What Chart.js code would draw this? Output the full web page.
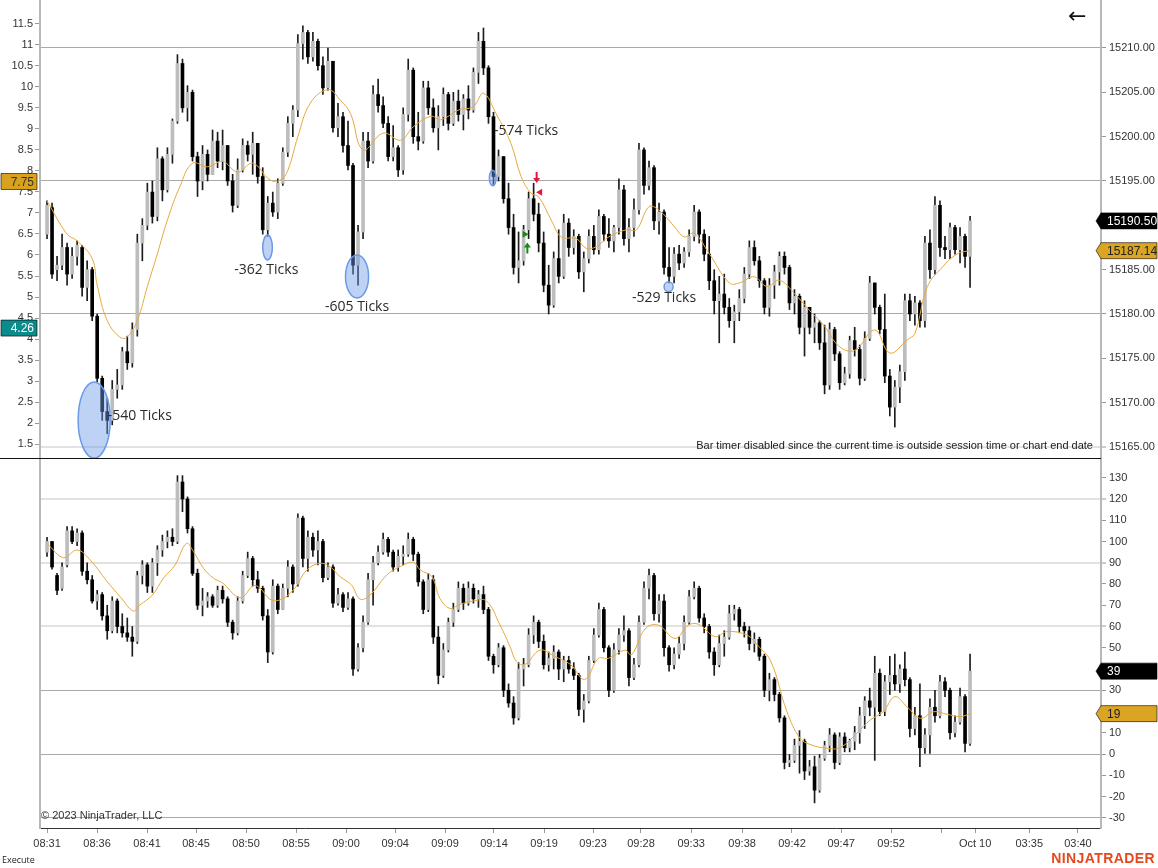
<!DOCTYPE html>
<html>
<head>
<meta charset="utf-8">
<script src="https://cdn.jsdelivr.net/npm/chart.js@4.4.1/dist/chart.umd.min.js"></script>
<style>
  body { margin: 0; background: #fff; width: 1158px; height: 868px; overflow: hidden; position: relative;
         font-family: "Liberation Sans", Arial, sans-serif; }
  canvas { position: absolute; left: 0; }
  #top { top: 0; }
  #bot { top: 458px; }
  .sep { position: absolute; left: 0; top: 458px; width: 1101px; height: 1px; background: #111; }
  .txt { position: absolute; white-space: nowrap; color: #222; }
</style>
</head>
<body>
<canvas id="top" width="1158" height="458"></canvas>
<canvas id="bot" width="1158" height="410"></canvas>
<div class="sep"></div>
<div class="txt" style="left:1068px;top:3px;font:22px 'DejaVu Sans',sans-serif;color:#111">&#8592;</div>
<div class="txt" style="right:65px;top:439px;font-size:11px;color:#1a1a1a">Bar timer disabled since the current time is outside session time or chart end date</div>
<div class="txt" style="left:41px;top:809px;font-size:11px;color:#333">&copy; 2023 NinjaTrader, LLC</div>
<div class="txt" style="left:2px;top:853px;font:9px 'Open Sans',sans-serif;color:#222">Execute</div>
<div class="txt" style="right:3px;top:850px;font-weight:bold;font-size:14px;letter-spacing:0.4px;color:#e5491f">NINJATRADER</div>

<script>
// ---- price panel (bars ~27s) ----
var topOpen = [
  15189.0,15192.0,15185.0,15185.5,15187.5,15184.5,15186.5,15187.5,15183.0,15185.0,
  15179.75,15172.75,15169.0,15168.0,15171.5,15172.0,15175.75,15174.5,15178.25,15188.0,
  15190.0,15193.75,15191.0,15197.5,15194.0,15198.0,15201.75,15208.25,15203.25,15205.0,
  15197.75,15195.0,15198.0,15195.75,15199.5,15197.25,15199.0,15195.0,15192.25,15196.25,
  15199.0,15198.0,15199.25,15195.5,15189.5,15192.5,15191.5,15194.75,15198.25,15201.5,
  15203.0,15210.5,15211.75,15209.0,15210.75,15208.0,15205.5,15208.5,15201.0,15202.25,
  15199.0,15196.75,15185.5,15189.25,15199.5,15197.25,15204.75,15203.5,15201.5,15197.75,
  15198.75,15196.25,15202.5,15207.5,15200.0,15199.5,15205.5,15203.25,15201.0,15202.25,
  15204.75,15201.5,15204.0,15202.5,15204.25,15203.0,15207.25,15210.75,15207.75,15202.25,
  15195.5,15197.75,15193.0,15189.75,15185.25,15186.0,15189.5,15193.0,15191.25,15188.0,
  15183.25,15181.0,15186.25,15184.25,15190.25,15187.5,15188.75,15184.75,15186.25,15188.75,
  15187.25,15191.0,15189.0,15188.25,15189.75,15194.0,15188.5,15189.75,15191.75,15198.5,
  15194.5,15196.5,15190.5,15191.5,15185.25,15184.25,15186.75,15185.75,15187.0,15188.75,
  15191.5,15189.0,15186.75,15183.75,15181.5,15182.25,15180.75,15179.25,15180.25,15181.75,
  15184.5,15187.5,15186.0,15183.75,15180.75,15183.25,15184.75,15186.5,15185.25,15181.25,
  15182.0,15178.5,15180.75,15178.5,15179.0,15176.75,15172.0,15178.25,15175.5,15172.25,
  15173.25,15177.0,15176.0,15172.75,15177.25,15183.5,15180.75,15178.25,15173.0,15169.5,
  15171.75,15173.5,15181.5,15180.0,15181.25,15179.25,15188.0,15185.0,15192.25,15187.5,
  15187.25,15189.75,15187.25,15188.75,15186.5
];
var topHigh = [
  15192.75,15192.5,15186.5,15189.0,15188.0,15187.5,15188.25,15187.75,15186.0,15185.25,
  15180.0,15173.0,15170.5,15172.5,15173.75,15176.25,15177.5,15179.0,15189.0,15190.75,
  15194.75,15195.0,15198.75,15197.75,15198.75,15202.0,15209.25,15208.75,15205.75,15205.25,
  15198.25,15199.0,15198.5,15200.75,15200.5,15200.75,15199.0,15195.75,15197.5,15199.75,
  15199.5,15200.5,15199.25,15196.5,15193.25,15193.75,15195.25,15198.75,15202.25,15203.5,
  15211.5,15212.5,15212.0,15211.75,15211.0,15209.0,15210.0,15208.5,15203.75,15202.75,
  15201.75,15197.0,15190.0,15200.5,15200.5,15205.75,15206.5,15204.5,15202.25,15201.25,
  15199.0,15203.25,15208.75,15207.75,15202.75,15206.25,15206.25,15204.25,15203.5,15205.5,
  15205.0,15205.0,15205.25,15204.75,15205.75,15207.75,15211.75,15212.25,15208.0,15202.75,
  15198.5,15197.75,15194.75,15191.25,15189.25,15190.0,15193.75,15194.75,15192.5,15189.25,
  15185.5,15187.0,15189.5,15191.25,15190.75,15189.5,15189.0,15187.0,15189.5,15190.0,
  15191.75,15191.25,15190.75,15190.0,15195.25,15194.5,15190.75,15193.0,15199.25,15198.75,
  15197.25,15196.75,15192.5,15191.75,15187.5,15187.5,15187.75,15187.5,15189.5,15192.25,
  15191.75,15189.5,15188.75,15185.0,15184.25,15184.5,15181.75,15181.0,15182.75,15185.25,
  15188.25,15188.25,15186.5,15184.0,15184.0,15185.5,15187.0,15187.0,15185.5,15182.75,
  15182.25,15181.5,15180.75,15180.0,15179.25,15178.75,15179.0,15178.5,15175.75,15174.0,
  15177.5,15178.5,15176.5,15178.0,15184.25,15183.5,15181.0,15182.25,15173.75,15172.5,
  15174.25,15182.25,15182.25,15182.0,15181.5,15188.75,15189.5,15193.25,15192.75,15188.75,
  15190.25,15190.0,15189.75,15189.0,15191.0
];
var topLow = [
  15188.5,15184.0,15183.75,15185.0,15183.25,15184.0,15185.5,15182.0,15181.5,15179.25,
  15172.25,15168.0,15166.5,15167.5,15170.5,15171.5,15173.75,15174.0,15177.5,15186.0,
  15189.5,15190.25,15190.5,15192.75,15193.75,15197.0,15201.5,15202.75,15201.75,15197.25,
  15193.25,15194.0,15195.0,15195.75,15196.5,15196.25,15194.5,15191.5,15192.0,15196.0,
  15197.25,15195.75,15194.75,15189.0,15188.75,15191.0,15190.75,15194.5,15197.75,15200.0,
  15202.25,15208.75,15208.25,15208.5,15207.5,15204.75,15205.25,15200.5,15200.0,15198.25,
  15196.25,15184.5,15183.25,15188.5,15196.5,15197.0,15202.75,15201.0,15197.25,15197.25,
  15195.5,15195.75,15201.75,15199.25,15198.5,15199.25,15202.5,15200.5,15198.5,15201.25,
  15200.75,15201.25,15201.75,15200.75,15202.0,15202.75,15206.0,15207.0,15201.5,15194.5,
  15195.0,15192.5,15189.0,15184.5,15183.5,15185.5,15188.5,15190.5,15187.0,15182.5,
  15180.0,15180.75,15183.5,15184.0,15186.5,15186.75,15184.0,15182.5,15185.75,15186.75,
  15186.75,15188.25,15187.5,15187.0,15189.0,15187.75,15187.0,15188.75,15191.25,15193.5,
  15194.0,15189.5,15189.0,15184.5,15183.5,15183.5,15185.0,15185.25,15186.5,15188.25,
  15188.0,15186.0,15182.75,15180.0,15176.75,15180.0,15178.5,15176.75,15179.25,15181.25,
  15184.0,15185.5,15183.0,15180.0,15179.75,15181.75,15183.25,15184.5,15180.5,15180.0,
  15177.75,15175.25,15177.75,15176.75,15176.0,15171.0,15171.5,15174.75,15171.5,15172.0,
  15172.75,15175.25,15172.0,15172.5,15177.0,15180.0,15177.75,15172.25,15168.5,15167.25,
  15170.0,15172.5,15179.25,15178.75,15178.5,15178.5,15184.0,15184.5,15186.5,15186.25,
  15186.25,15186.75,15185.75,15185.25,15183.0
];
var topClose = [
  15192.25,15184.5,15185.5,15187.5,15184.5,15186.5,15187.75,15183.0,15185.0,15179.75,
  15172.75,15169.0,15168.0,15171.5,15172.0,15175.75,15174.5,15178.25,15188.0,15190.0,
  15193.75,15191.0,15197.5,15194.0,15198.0,15201.75,15208.25,15203.25,15205.0,15197.75,
  15195.0,15198.0,15195.75,15199.5,15197.25,15199.0,15195.0,15192.25,15196.25,15199.0,
  15198.0,15199.25,15195.5,15189.5,15192.5,15191.5,15194.75,15198.25,15201.5,15203.0,
  15210.5,15211.75,15209.0,15210.75,15208.0,15205.5,15208.5,15201.0,15202.25,15199.0,
  15196.75,15185.5,15189.25,15199.5,15197.25,15204.75,15203.5,15201.5,15197.75,15198.75,
  15196.25,15202.5,15207.5,15200.0,15199.5,15205.5,15203.25,15201.0,15202.25,15204.75,
  15201.5,15204.0,15202.5,15204.25,15203.0,15207.25,15210.75,15207.75,15202.25,15195.5,
  15197.75,15193.0,15189.75,15185.25,15186.0,15189.5,15193.0,15191.25,15188.0,15183.25,
  15181.0,15186.25,15184.25,15190.25,15187.5,15188.75,15184.75,15186.25,15188.75,15187.25,
  15191.0,15189.0,15188.25,15189.75,15194.0,15188.5,15189.75,15191.75,15198.5,15194.5,
  15196.5,15190.5,15191.5,15185.25,15184.25,15186.75,15185.75,15187.0,15188.75,15191.5,
  15189.0,15186.75,15183.75,15181.5,15182.25,15180.75,15179.25,15180.25,15181.75,15184.5,
  15187.5,15186.0,15183.75,15180.75,15183.25,15184.75,15186.5,15185.25,15181.25,15182.0,
  15178.5,15180.75,15178.5,15179.0,15176.75,15172.0,15178.25,15175.5,15172.25,15173.25,
  15177.0,15176.0,15172.75,15177.25,15183.5,15180.75,15178.25,15173.0,15169.5,15171.75,
  15173.5,15181.5,15180.0,15181.25,15179.25,15188.0,15185.0,15192.25,15187.5,15187.25,
  15189.75,15187.25,15188.75,15186.5,15190.5
];
// moving average (bar position, price)
var smaTopX = [0,4,6,9,10,12,14.5,16,18,20,22,24,26.5,29,32,35,38,41,44.5,46.5,48,50,52.5,56,58.5,60.5,
  63,67,70.5,73,76.5,78.5,82,85,87,89.5,92.5,94.5,96.5,98,100.5,102.5,105.5,107.5,109.5,112,115.5,117.5,
  120,122,125,127,129,132,136,138,141,143.5,146,149,152,155,158,161,165,168,171.5,173,175.5,178.5,181.5,184];
var smaTopY = [15192.75,15189.0,15188.25,15186.25,15183.25,15179.25,15177.4,15177.4,15179.3,15183.1,15186.8,
  15190.6,15194.4,15197.0,15196.6,15197.2,15196.0,15197.0,15195.1,15195.1,15196.2,15200.0,15203.8,15205.3,
  15204.1,15202.6,15198.5,15200.4,15199.6,15201.1,15202.3,15201.9,15203.0,15203.4,15204.9,15202.6,15199.2,
  15195.5,15193.6,15193.2,15190.6,15188.7,15188.5,15187.4,15187.6,15188.7,15189.5,15189.5,15192.1,15191.7,
  15189.9,15188.7,15189.1,15186.8,15183.5,15183.5,15184.2,15183.1,15183.8,15182.3,15180.4,15178.6,15176.3,
  15175.9,15178.2,15175.6,15177.1,15177.8,15183.1,15185.3,15186.8,15187.14];

// ---- lower panel ----
var lowOpen = [
  95,100,84,78,89,105,100,104,86,82, 72,75,65,58,72,60,57,55,53,84,
  89,79,90,96,100,102,100,128,120,106, 85,70,72,74,70,77,73,62,57,72,
  84,92,82,78,65,48,79,68,78,88, 80,111,92,102,96,100,83,88,71,75,
  69,73,40,50,62,82,90,95,101,95, 88,93,94,101,94,81,68,82,55,37,
  49,62,68,78,71,78,73,75,68,46, 42,50,30,24,17,40,42,56,62,53,
  42,45,48,40,44,40,37,21,25,44, 56,68,50,30,49,56,58,36,42,62,
  78,84,66,72,50,42,47,52,62,74, 78,64,60,48,42,52,55,66,68,60,
  58,52,54,46,30,35,28,17,-4,-3, 4,6,-8,-6,-17,-2,4,9,-4,8,
  3,6,10,18,25,22,38,20,34,37, 33,40,35,12,18,3,9,22,18,34,
  30,10,15,27,5
];
var lowHigh = [
  102,100,85,90,107,107,106,105,90,84, 77,76,70,74,73,66,64,60,86,91,
  90,92,98,103,105,106,131,131,121,107, 87,78,76,75,79,79,74,63,74,86,
  95,93,86,79,68,82,80,80,91,89, 113,112,105,104,105,101,90,89,78,76,
  76,74,52,65,85,93,98,104,102,96, 96,98,104,102,95,82,85,84,60,52,
  64,71,81,80,81,80,77,79,69,47, 52,51,33,27,43,45,59,65,63,56,
  48,51,49,46,46,43,38,28,46,59, 71,69,51,52,59,65,59,45,65,81,
  87,85,75,75,51,50,55,65,77,81, 79,66,61,50,56,58,70,70,69,62,
  60,57,55,47,38,36,29,18,0,7, 11,7,-3,-1,0,6,12,10,10,10,
  7,13,22,27,31,46,40,37,46,47, 42,48,36,22,33,12,26,30,37,36,
  31,18,31,28,47
];
var lowLow = [
  93,87,75,77,88,99,98,84,80,71, 68,63,54,57,57,55,53,46,52,80,
  76,76,84,93,97,98,99,114,104,84, 68,65,69,69,69,71,60,54,56,71,
  83,79,76,63,43,47,66,68,74,76, 79,88,86,93,89,81,82,69,70,67,
  68,37,39,48,61,70,89,94,93,86, 86,89,93,91,79,66,67,52,33,36,
  48,60,67,68,70,71,69,66,44,38, 41,27,22,14,16,32,41,52,50,40,
  39,40,35,34,38,35,18,15,24,43, 55,48,27,29,47,53,32,35,41,61,
  73,63,62,46,39,40,45,49,61,73, 62,57,45,37,41,46,54,63,57,55,
  49,48,44,27,25,25,15,-7,-6,-4, -9,-12,-10,-23,-18,-3,1,-7,-5,1,
  1,2,5,12,18,-3,18,18,28,30, 29,32,8,9,-6,0,0,15,17,27,
  7,8,14,1,4
];
var lowClose = [
  100,88,77,88,105,100,104,86,82,72, 75,65,58,72,60,57,55,53,84,89,
  79,90,96,100,102,100,128,120,106,85, 70,72,74,70,77,73,62,57,72,84,
  92,82,78,65,48,79,68,78,88,80, 111,92,102,96,100,83,88,71,75,69,
  73,40,50,62,82,90,95,101,95,88, 93,94,101,94,81,68,82,55,37,49,
  62,68,78,71,78,73,75,68,46,42, 50,30,24,17,40,42,56,62,53,42,
  45,48,40,44,40,37,21,25,44,56, 68,50,30,49,56,58,36,42,62,78,
  84,66,72,50,42,47,52,62,74,78, 64,60,48,42,52,55,66,68,60,58,
  52,54,46,30,35,28,17,-4,-3,4, 6,-8,-6,-17,-2,4,9,-4,8,3,
  6,10,18,25,22,38,20,34,37,33, 40,35,12,18,3,9,22,18,34,30,
  10,15,27,5,39
];
var smaLowX = [0,3.3,6,8.6,12,14.6,17.2,18.5,21,23.2,25.5,27.8,29.2,31.2,33.2,35.1,37.8,39.1,41.1,42.5,44.4,
  46.4,49.1,51.8,54.4,56.4,58.4,60.7,62.4,64.4,67.7,70.4,73,74.4,76.7,78.3,80.3,82.3,85,87.6,90.3,92.3,93.6,
  95.3,98.3,101.3,104.3,107.2,109.9,111.9,115.2,116.5,119.2,121.8,125.2,127.9,129.9,133.2,135.5,139.5,141.6,
  144.3,147.5,150.1,152.1,155.4,158.1,161.4,164.1,166.7,169,171.4,174.1,176.7,179.4,182,184];
var smaLowY = [99,92.4,96,91.3,81.1,74,67.3,70.1,74.8,82.7,88.9,99.1,95.2,87.4,82.7,80.3,74,74,79.2,78,72.9,
  72.5,77.2,86.6,89.7,88.2,83.5,79.5,72.9,74.8,84.2,88.2,90.2,86.6,83.5,73.3,68.5,70.4,72,72,60.7,50.5,43.5,
  42.2,48.9,45.8,42.2,35.1,45,45,48.9,46.6,58.8,60.7,54.4,60.7,61,55.2,57.6,56,51.3,43.5,19.9,7.4,4.5,2.7,3,
  9.7,16,19.9,27,22.3,16.8,19.9,18.7,17.6,19];

// ---- axes ----
var leftTicks = [1.5,2,2.5,3,3.5,4,4.5,5,5.5,6,6.5,7,7.5,8,8.5,9,9.5,10,10.5,11,11.5];
var priceTicks = [15165,15170,15175,15180,15185,15190,15195,15200,15205,15210];
var lowTicks = [-30,-20,-10,0,10,20,30,40,50,60,70,80,90,100,110,120,130];
var timeTickPos = [0,9.97,19.94,29.7,39.67,49.64,59.6,69.4,79.35,89.1,99.08,108.85,118.4,128.4,138.56,148.5,158.3,168.26,178.4,185,195.8,205.5];
var timeTickText = ['08:31','08:36','08:41','08:45','08:50','08:55','09:00','09:04','09:09','09:14','09:19','09:23','09:28','09:33','09:38','09:42','09:47','09:52','','Oct 10','03:35','03:40'];
var leftMarks = [7.75, 4.26];

// ---- drawings on the price panel ----
var annText = ['-540 Ticks','-362 Ticks','-605 Ticks','-574 Ticks','-529 Ticks'];
var annX = [9.4, 43.96, 61.8, 88.85, 123.9];
var annY = [15168.05, 15187.5, 15184.23, 15195.34, 15183.08];
var annRX = [3.2, 0.96, 2.3, 0.67, 0.9];
var annRY = [4.29, 1.41, 2.42, 0.88, 0.56];
var annTextX = [18.5, 43.7, 61.8, 95.5, 123.0];
var annTextY = [15168.5, 15184.96, 15180.8, 15200.64, 15181.8];
var markKind = ['down','left','right','up'];
var markX = [97.6, 98.1, 95.4, 95.75];
var markY = [15195.34, 15193.73, 15188.99, 15187.5];

Chart.defaults.font.family = '"Liberation Sans", Arial, sans-serif';
Chart.defaults.font.size = 11;
Chart.defaults.color = '#333';

var X_MIN = -1.4, X_MAX = 210.1;

function candleSets(o, h, l, c) {
  return [
    { type: 'bar', order: 2, grouped: false, barThickness: 1, backgroundColor: '#1c1c1c',
      data: o.map(function (v, i) { return { x: i, y: [l[i], h[i]] }; }), xAxisID: 'x', yAxisID: 'yR' },
    { type: 'bar', order: 1, grouped: false, barThickness: 3, minBarLength: 1,
      backgroundColor: o.map(function (v, i) { return c[i] >= v ? '#bdbdbd' : '#000'; }),
      data: o.map(function (v, i) { return { x: i, y: [Math.min(v, c[i]), Math.max(v, c[i])] }; }), xAxisID: 'x', yAxisID: 'yR' }
  ];
}
function smaSet(xs, ys) {
  return { type: 'line', order: 0, borderColor: '#e6a93c', borderWidth: 1, pointRadius: 0, tension: 0.4,
    data: xs.map(function (x, i) { return { x: x, y: ys[i] }; }), xAxisID: 'x', yAxisID: 'yR' };
}
function tag(ctx, area, side, y, text, fill, ink) {
  ctx.save();
  ctx.beginPath();
  if (side === 'right') {
    var x0 = area.right;
    ctx.moveTo(x0 - 5, y); ctx.lineTo(x0, y - 8); ctx.lineTo(x0 + 56, y - 8);
    ctx.lineTo(x0 + 56, y + 8); ctx.lineTo(x0, y + 8);
  } else {
    ctx.rect(1, y - 8, 36, 16);
  }
  ctx.closePath();
  ctx.fillStyle = fill; ctx.fill();
  ctx.strokeStyle = 'rgba(0,0,0,0.6)'; ctx.lineWidth = 1; ctx.stroke();
  ctx.fillStyle = ink;
  ctx.font = '12px "Liberation Sans", Arial, sans-serif';
  ctx.textBaseline = 'middle';
  if (side === 'right') { ctx.textAlign = 'left'; ctx.fillText(text, area.right + 6, y + 1); }
  else { ctx.textAlign = 'right'; ctx.fillText(text, 34, y + 1); }
  ctx.restore();
}
function drawMark(ctx, kind, x, y) {
  ctx.fillStyle = (kind === 'down' || kind === 'left') ? '#e3173e' : '#168a16';
  ctx.beginPath();
  if (kind === 'down') { ctx.rect(x - 1, y - 6, 2, 6); ctx.moveTo(x - 3.5, y); ctx.lineTo(x + 3.5, y); ctx.lineTo(x, y + 5); }
  if (kind === 'up') { ctx.rect(x - 1, y, 2, 6); ctx.moveTo(x - 3.5, y); ctx.lineTo(x + 3.5, y); ctx.lineTo(x, y - 5); }
  if (kind === 'left') { ctx.moveTo(x + 3, y - 3.5); ctx.lineTo(x + 3, y + 3.5); ctx.lineTo(x - 3, y); }
  if (kind === 'right') { ctx.moveTo(x - 3, y - 3.5); ctx.lineTo(x - 3, y + 3.5); ctx.lineTo(x + 3, y); }
  ctx.closePath();
  ctx.fill();
}
function fixedWidth(w) {
  return function (s) { s.width = w; s.paddingTop = 0; s.paddingBottom = 0; };
}

var topDrawings = {
  id: 'topDrawings',
  afterDatasetsDraw: function (chart) {
    var ctx = chart.ctx, a = chart.chartArea, x = chart.scales.x, y = chart.scales.yR;
    ctx.save();
    ctx.beginPath(); ctx.rect(a.left, a.top, a.right - a.left, a.bottom - a.top); ctx.clip();
    annX.forEach(function (v, k) {
      var cx = x.getPixelForValue(v), cy = y.getPixelForValue(annY[k]);
      var rx = x.getPixelForValue(v + annRX[k]) - cx;
      var ry = y.getPixelForValue(annY[k] - annRY[k]) - cy;
      ctx.beginPath(); ctx.ellipse(cx, cy, rx, ry, 0, 0, Math.PI * 2);
      ctx.fillStyle = 'rgba(110,155,235,0.45)'; ctx.fill();
      ctx.strokeStyle = '#6b9ae6'; ctx.lineWidth = 1.5; ctx.stroke();
      ctx.font = '14px "Open Sans", sans-serif'; ctx.fillStyle = '#2a2a2a';
      ctx.textAlign = 'center'; ctx.textBaseline = 'middle';
      ctx.fillText(annText[k], x.getPixelForValue(annTextX[k]), y.getPixelForValue(annTextY[k]));
    });
    markKind.forEach(function (kind, k) {
      drawMark(ctx, kind, x.getPixelForValue(markX[k]), y.getPixelForValue(markY[k]));
    });
    ctx.restore();
  },
  afterDraw: function (chart) {
    var ctx = chart.ctx, a = chart.chartArea, y = chart.scales.yR, yl = chart.scales.yL;
    tag(ctx, a, 'right', y.getPixelForValue(topClose[topClose.length - 1]), topClose[topClose.length - 1].toFixed(2), '#000', '#fff');
    tag(ctx, a, 'right', y.getPixelForValue(smaTopY[smaTopY.length - 1]), smaTopY[smaTopY.length - 1].toFixed(2), '#dba524', '#222');
    tag(ctx, a, 'left', yl.getPixelForValue(leftMarks[0]), leftMarks[0].toFixed(2), '#d9a21e', '#333');
    tag(ctx, a, 'left', yl.getPixelForValue(leftMarks[1]), leftMarks[1].toFixed(2), '#0b8b8b', '#fff');
  }
};

var lowDrawings = {
  id: 'lowDrawings',
  afterDraw: function (chart) {
    var ctx = chart.ctx, a = chart.chartArea, y = chart.scales.yR;
    tag(ctx, a, 'right', y.getPixelForValue(lowClose[lowClose.length - 1]), String(lowClose[lowClose.length - 1]), '#000', '#fff');
    tag(ctx, a, 'right', y.getPixelForValue(smaLowY[smaLowY.length - 1]), String(smaLowY[smaLowY.length - 1]), '#dba524', '#222');
  }
};

var baseOpts = {
  responsive: false, animation: false, events: [],
  layout: { padding: 0 },
  plugins: { legend: { display: false }, tooltip: { enabled: false } }
};

new Chart(document.getElementById('top'), {
  type: 'bar',
  data: { datasets: candleSets(topOpen, topHigh, topLow, topClose).concat([smaSet(smaTopX, smaTopY)]) },
  options: Object.assign({}, baseOpts, {
    scales: {
      x: { type: 'linear', min: X_MIN, max: X_MAX, offset: false, display: false },
      yL: {
        type: 'linear', position: 'left', min: 1.167, max: 12.071,
        afterBuildTicks: function (s) { s.ticks = leftTicks.map(function (v) { return { value: v }; }); },
        afterFit: fixedWidth(40),
        ticks: { autoSkip: false, padding: 2, callback: function (v) { return String(v); } },
        grid: { drawOnChartArea: false, tickLength: 5, tickColor: '#999' },
        border: { color: '#b8b8b8', width: 2 }
      },
      yR: {
        type: 'linear', position: 'right', min: 15163.76, max: 15215.41, beginAtZero: false,
        afterBuildTicks: function (s) { s.ticks = priceTicks.map(function (v) { return { value: v }; }); },
        afterFit: fixedWidth(57),
        ticks: { autoSkip: false, padding: 3, callback: function (v) { return v.toFixed(2); } },
        grid: {
          color: function (c) {
            var v = c.tick ? c.tick.value : null;
            if (v === 15210 || v === 15195 || v === 15180) return '#a9a9a9';
            if (v === 15165) return '#e2e2e2';
            return 'rgba(0,0,0,0)';
          },
          lineWidth: function (c) { return c.tick && c.tick.value === 15165 ? 2 : 1; },
          tickColor: '#999', tickWidth: 1, tickLength: 5
        },
        border: { color: '#b8b8b8', width: 2 }
      }
    }
  }),
  plugins: [topDrawings]
});

new Chart(document.getElementById('bot'), {
  type: 'bar',
  data: { datasets: candleSets(lowOpen, lowHigh, lowLow, lowClose).concat([smaSet(smaLowX, smaLowY)]) },
  options: Object.assign({}, baseOpts, {
    scales: {
      x: {
        type: 'linear', position: 'bottom', min: X_MIN, max: X_MAX, offset: false,
        afterBuildTicks: function (s) { s.ticks = timeTickPos.map(function (v) { return { value: v }; }); },
        afterFit: function (s) { s.height = 40; s.paddingLeft = 0; s.paddingRight = 0; },
        ticks: { autoSkip: false, maxRotation: 0, padding: 4, callback: function (v, i) { return timeTickText[i]; } },
        grid: { drawOnChartArea: false, offset: false, tickLength: 5, tickColor: '#999' },
        border: { color: '#333', width: 1 }
      },
      yL: {
        type: 'linear', position: 'left', min: 0, max: 1,
        afterFit: fixedWidth(40),
        ticks: { display: false },
        grid: { drawOnChartArea: false, drawTicks: false },
        border: { color: '#b8b8b8', width: 2 }
      },
      yR: {
        type: 'linear', position: 'right', min: -34.82, max: 139.29, beginAtZero: false,
        afterBuildTicks: function (s) { s.ticks = lowTicks.map(function (v) { return { value: v }; }); },
        afterFit: fixedWidth(57),
        ticks: { autoSkip: false, padding: 3, callback: function (v) { return String(v); } },
        grid: {
          color: function (c) {
            var v = c.tick ? c.tick.value : null;
            if (v === 120 || v === 90 || v === 60) return '#e2e2e2';
            if (v === 30 || v === 0 || v === -30) return '#a9a9a9';
            return 'rgba(0,0,0,0)';
          },
          lineWidth: function (c) { var v = c.tick ? c.tick.value : null; return (v === 120 || v === 90 || v === 60) ? 2 : 1; },
          tickColor: '#999', tickWidth: 1, tickLength: 5
        },
        border: { color: '#b8b8b8', width: 2 }
      }
    }
  }),
  plugins: [lowDrawings]
});
</script>
</body>
</html>
